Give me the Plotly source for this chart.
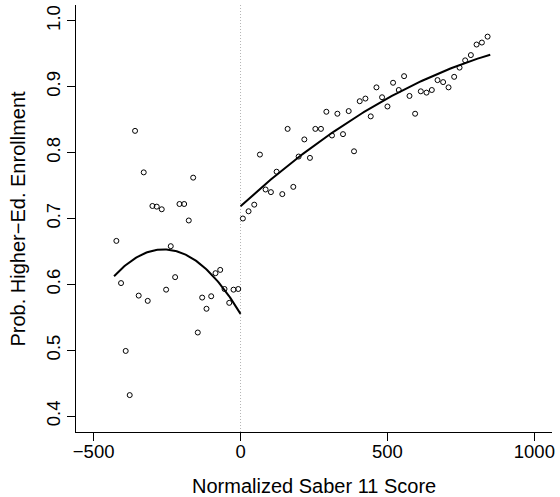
import numpy as np
import plotly.graph_objects as go

# Binned means, left of cutoff
left_x = [-422.6, -406.7, -390.9, -377.2, -359.0, -346.6, -329.5, -315.9, -299.9, -285.2,
          -268.2, -253.3, -237.5, -222.6, -207.9, -191.9, -176.2, -161.2, -145.5, -130.6,
          -115.9, -99.9, -85.2, -69.2, -54.5, -38.5, -23.9, -7.8]
left_y = [0.666, 0.602, 0.499, 0.432, 0.833, 0.583, 0.770, 0.575, 0.719, 0.718,
          0.714, 0.592, 0.658, 0.611, 0.722, 0.722, 0.697, 0.762, 0.527, 0.580,
          0.563, 0.582, 0.617, 0.622, 0.593, 0.572, 0.592, 0.593]

# Binned means, right of cutoff
right_x = [7.9, 27.3, 46.6, 65.9, 85.2, 103.4, 122.7, 142.1, 160.2, 179.6,
           197.7, 217.1, 236.2, 254.6, 273.7, 292.1, 311.2, 329.6, 348.7, 368.1,
           386.2, 405.6, 425.0, 443.1, 462.5, 481.6, 500.0, 519.1, 538.5, 556.6,
           575.0, 594.1, 613.5, 632.9, 651.0, 670.4, 689.5, 707.9, 727.0, 745.4,
           764.5, 783.9, 803.3, 821.4, 840.8]
right_y = [0.700, 0.711, 0.721, 0.797, 0.744, 0.740, 0.771, 0.737, 0.836, 0.748,
           0.794, 0.820, 0.792, 0.836, 0.836, 0.862, 0.826, 0.859, 0.828, 0.863,
           0.802, 0.878, 0.882, 0.855, 0.899, 0.884, 0.870, 0.906, 0.895, 0.916,
           0.886, 0.859, 0.893, 0.891, 0.895, 0.910, 0.907, 0.899, 0.915, 0.929,
           0.940, 0.948, 0.964, 0.967, 0.976]

# Quadratic fit curve on the left (start, vertex, end)
left_fit_x = [-430.5, -264.8, 0.0]
left_fit_y = [0.6125, 0.6531, 0.5553]
# Fit range on the right (bin edges)
right_range = [0.0, 849.8]

x_ticks = [-500, 0, 500, 1000]
x_ticktext = ["\u2212500", "0", "500", "1000"]
y_ticks = [0.4, 0.5, 0.6, 0.7, 0.8, 0.9, 1.0]
y_ticktext = ["0.4", "0.5", "0.6", "0.7", "0.8", "0.9", "1.0"]

FONT = "Liberation Sans, Arial, Helvetica, sans-serif"

cl = np.polyfit(left_fit_x, left_fit_y, 2)
cr = np.polyfit(right_x, right_y, 2)
gl = np.linspace(left_fit_x[0], left_fit_x[-1], 100)
gr = np.linspace(right_range[0], right_range[1], 100)

fig = go.Figure()
fig.add_trace(go.Scatter(x=[0, 0], y=[0.376, 1.024], mode="lines",
                         line=dict(color="#b4b4b4", width=1, dash="1px,2px"),
                         hoverinfo="skip", showlegend=False))
for xs, ys in ((left_x, left_y), (right_x, right_y)):
    fig.add_trace(go.Scatter(x=xs, y=ys, mode="markers",
                             marker=dict(symbol="circle-open", size=5, color="black",
                                         line=dict(width=1, color="black")),
                             showlegend=False))
fig.add_trace(go.Scatter(x=gl, y=np.polyval(cl, gl), mode="lines",
                         line=dict(color="black", width=2), showlegend=False))
fig.add_trace(go.Scatter(x=gr, y=np.polyval(cr, gr), mode="lines",
                         line=dict(color="black", width=2), showlegend=False))

fig.update_layout(
    width=560, height=497,
    margin=dict(l=76, r=8, t=5, b=65),
    paper_bgcolor="white", plot_bgcolor="white",
    font=dict(family=FONT, size=18.5, color="black"),
    showlegend=False,
)
fig.update_xaxes(range=[-560, 1060], tickvals=x_ticks, ticktext=x_ticktext,
                 showline=True, linecolor="black", linewidth=1, mirror=False,
                 ticks="outside", ticklen=8, tickcolor="black", tickwidth=1,
                 ticklabelstandoff=-5,
                 showgrid=False, zeroline=False, tickfont=dict(size=18.5))
fig.update_yaxes(range=[0.376, 1.024], tickvals=y_ticks, ticktext=y_ticktext,
                 tickangle=-90,
                 showline=True, linecolor="black", linewidth=1, mirror=False,
                 ticks="outside", ticklen=8, tickcolor="black", tickwidth=1,
                 showgrid=False, zeroline=False, tickfont=dict(size=18.5))
fig.add_annotation(text="Normalized Saber 11 Score", xref="paper", yref="paper",
                   x=0.5, y=0, yshift=-54, xanchor="center", yanchor="middle",
                   showarrow=False, font=dict(size=20))
fig.add_annotation(text="Prob. Higher\u2212Ed. Enrollment", xref="paper", yref="paper",
                   x=0, y=0.5, xshift=-59, xanchor="center", yanchor="middle",
                   textangle=-90, showarrow=False, font=dict(size=20))
fig.write_html("out.html")
